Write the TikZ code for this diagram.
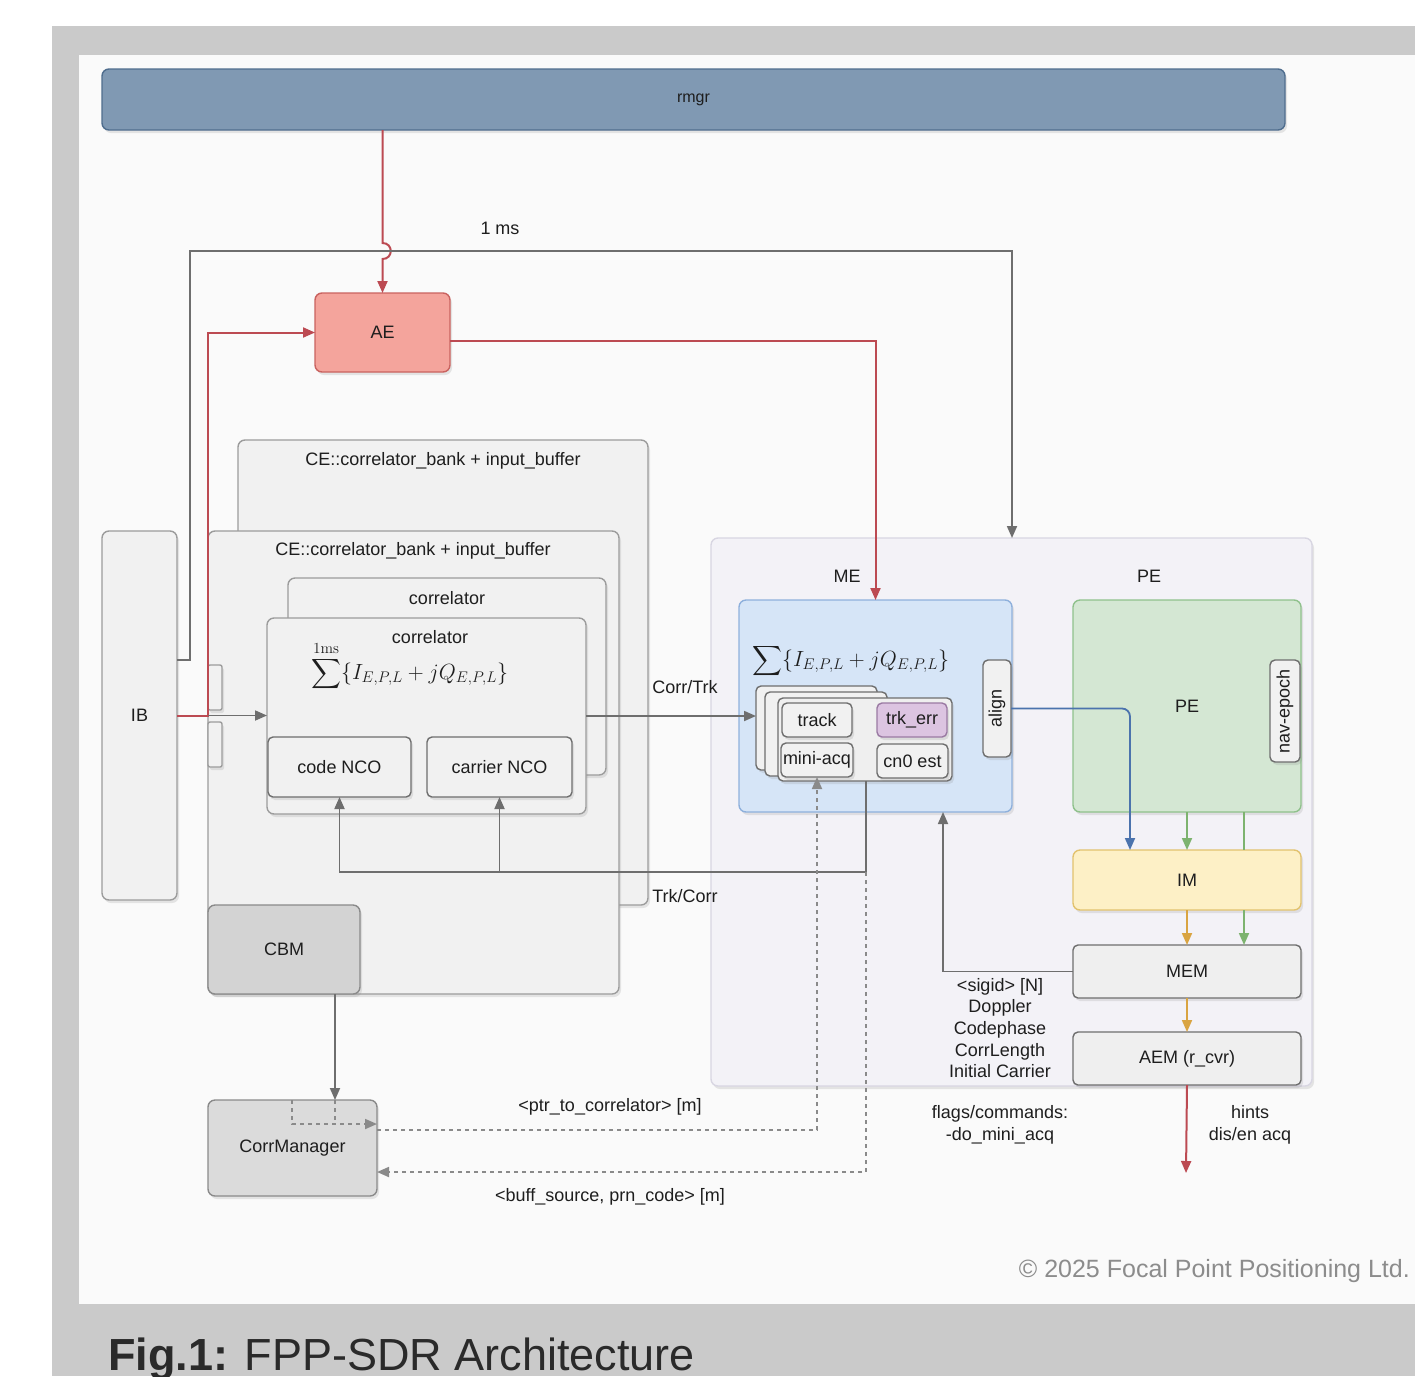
\RequirePackage{fix-cm}
\documentclass[tikz,border=0pt]{standalone}
\usepackage{exscale}
\usepackage[no-math]{fontspec}
\setmainfont{Liberation Sans}
\usetikzlibrary{arrows.meta,shadows,calc}

\definecolor{bggray}{HTML}{CACACA}
\definecolor{panel}{HTML}{FAFAFA}
\definecolor{ink}{HTML}{1E1E1E}
\definecolor{capink}{HTML}{2A2A2A}
\definecolor{rmgrfill}{HTML}{8099B3}
\definecolor{rmgrline}{HTML}{4F6D8E}
\definecolor{aefill}{HTML}{F4A49C}
\definecolor{aeline}{HTML}{C9625F}
\definecolor{lred}{HTML}{BC4A52}
\definecolor{lgray}{HTML}{6E6E6E}
\definecolor{dgray}{HTML}{8A8A8A}
\definecolor{cefill}{HTML}{F1F1F1}
\definecolor{celine}{HTML}{9C9C9C}
\definecolor{cbmfill}{HTML}{D3D3D3}
\definecolor{cmfill}{HTML}{DBDBDB}
\definecolor{mepefill}{HTML}{F3F2F7}
\definecolor{mepeline}{HTML}{D8D6E2}
\definecolor{mefill}{HTML}{D6E5F7}
\definecolor{meline}{HTML}{8EB0DC}
\definecolor{pefill}{HTML}{D4E7D3}
\definecolor{peline}{HTML}{8FC18C}
\definecolor{imfill}{HTML}{FDF0C6}
\definecolor{imline}{HTML}{E2C26E}
\definecolor{memfill}{HTML}{EFEFEF}
\definecolor{errfill}{HTML}{DCC4E1}
\definecolor{errline}{HTML}{9A7AA3}
\definecolor{lblue}{HTML}{4B73AD}
\definecolor{lgreen}{HTML}{7DB36F}
\definecolor{lorange}{HTML}{D9A441}
\definecolor{copyink}{HTML}{8C8C8C}

\begin{document}
\begin{tikzpicture}[x=1pt,y=-1pt,
  every node/.style={font=\fontsize{18}{21.7}\selectfont, text=ink},
  blk/.style={draw=celine, fill=cefill, rounded corners=7pt, line width=1.4pt,
    inner sep=0pt, outer sep=0pt, anchor=north west,
    drop shadow={shadow xshift=2pt, shadow yshift=-3pt, opacity=0.18}},
  small/.style={blk, rounded corners=5pt, draw=lgray},
  lbl/.style={inner sep=0pt, align=center},
  arr/.style={-{Triangle[length=12pt,width=10pt]}},
  gline/.style={draw=lgray, line width=1.8pt},
  rline/.style={draw=lred, line width=2pt},
  dotline/.style={draw=dgray, line width=1.8pt, dash pattern=on 4pt off 4pt},
]
% page, grey frame and white panel
\fill[white] (0,0) rectangle (1415,1376);
\fill[bggray] (52,26) rectangle (1415,1376);
\fill[panel] (79,55) rectangle (1415,1304);
\useasboundingbox (0,0) rectangle (1415,1376);

% resource manager
\node[blk, fill=rmgrfill, draw=rmgrline, minimum width=1183pt, minimum height=61pt,
  font=\fontsize{16}{19}\selectfont] (rmgr) at (102,69) {rmgr};
% acquisition engine
\node[blk, fill=aefill, draw=aeline, minimum width=135pt, minimum height=79pt] (ae) at (315,293) {AE};
% input buffer
\node[blk, minimum width=75pt, minimum height=369pt] (ib) at (102,531) {IB};

% correlator banks
\node[blk, minimum width=410pt, minimum height=465pt] (ceB) at (238,440) {};
\node[blk, minimum width=411pt, minimum height=463pt] (ceF) at (208,531) {};
\node[blk, rounded corners=2pt, minimum width=14pt, minimum height=45pt] (tabA) at (208,665) {};
\node[blk, rounded corners=2pt, minimum width=14pt, minimum height=45pt] (tabB) at (208,722) {};
\node[lbl] (ceBt) at (443,461) {CE::correlator\_bank + input\_buffer};
\node[lbl] (ceFt) at (413,551) {CE::correlator\_bank + input\_buffer};
\node[blk, minimum width=318pt, minimum height=197pt] (corB) at (288,578) {};
\node[blk, minimum width=319pt, minimum height=196pt] (corF) at (267,618) {};
\node[lbl] (corBt) at (447,598) {correlator};
\node[lbl] (corFt) at (430,637) {correlator};
\node[lbl, font=\fontsize{22}{26}\selectfont, anchor=west] (sumC) at (311,666)
  {$\displaystyle\sum^{\mathrm{1ms}}\{I_{E,P,L}+jQ_{E,P,L}\}$};
\node[small, minimum width=143pt, minimum height=60pt] (codenco) at (268,737) {code NCO};
\node[small, minimum width=145pt, minimum height=60pt] (carnco) at (427,737) {carrier NCO};
\node[blk, fill=cbmfill, draw=dgray, minimum width=152pt, minimum height=89pt] (cbm) at (208,905) {CBM};
\node[blk, fill=cmfill, draw=dgray, minimum width=169pt, minimum height=96pt] (cm) at (208,1100) {CorrManager};

% measurement and position engines
\node[blk, fill=mepefill, draw=mepeline, minimum width=601pt, minimum height=548pt] (mepe) at (711,538) {};
\node[lbl] (mel) at (847,576) {ME};
\node[lbl] (pel) at (1149,576) {PE};
\node[blk, fill=mefill, draw=meline, minimum width=273pt, minimum height=212pt] (me) at (739,600) {};
\node[lbl, font=\fontsize{22}{26}\selectfont, anchor=west] (sumM) at (752,661)
  {$\displaystyle\sum\{I_{E,P,L}+jQ_{E,P,L}\}$};
\node[small, minimum width=121pt, minimum height=84pt] (card1) at (756,686) {};
\node[small, minimum width=122pt, minimum height=84pt] (card2) at (765,692) {};
\node[small, fill=memfill, minimum width=174pt, minimum height=83pt] (cardF) at (778,698) {};
\node[small, minimum width=70pt, minimum height=34pt] (track) at (782,703) {track};
\node[small, fill=errfill, draw=errline, minimum width=70pt, minimum height=34pt] (trkerr) at (877,703) {trk\_err};
\node[small, minimum width=72pt, minimum height=34pt] (miniacq) at (781,743) {mini-acq};
\node[small, minimum width=71pt, minimum height=34pt] (cn0) at (877,744) {cn0 est};
\node[small, minimum width=28pt, minimum height=97pt] (align) at (983,660) {};
\node[lbl, rotate=90] (alignt) at (align.center) {align};

\node[blk, fill=pefill, draw=peline, minimum width=228pt, minimum height=212pt] (pe) at (1073,600) {PE};
\node[small, minimum width=30pt, minimum height=102pt] (nav) at (1270,660) {};
\node[lbl, rotate=90] (navt) at (nav.center) {nav-epoch};
\node[blk, fill=imfill, draw=imline, minimum width=228pt, minimum height=60pt] (im) at (1073,850) {IM};
\node[small, fill=memfill, minimum width=228pt, minimum height=53pt] (mem) at (1073,945) {MEM};
\node[small, fill=memfill, minimum width=228pt, minimum height=53pt] (aem) at (1073,1032) {AEM (r\_cvr)};

% helper points
\coordinate (msA) at (190,660);
\coordinate (msB) at (190,251);
\coordinate (fb) at (866,872);
\coordinate (ptrY) at (0,1130);
\coordinate (bufY) at (0,1172);
\coordinate (aeOut) at (450,341);
\coordinate (outEnd) at (1186,1173);
\path (ae.north |- msB) coordinate (hopC);

% rmgr -> AE, hopping over the 1 ms line
\draw[rline, arr] (rmgr.south -| ae.north) -- ($(hopC)+(0,-8)$)
  .. controls ($(hopC)+(11,-8)$) and ($(hopC)+(11,8)$) .. ($(hopC)+(0,8)$) -- (ae.north);
% 1 ms tick
\draw[gline, arr] (msA -| ib.east) -- (msA) -- (msB) -| (mepe.north -| me.north east);
\node[lbl] (ms) at (500,228) {1 ms};
% IB -> AE and IB -> correlator
\draw[rline, arr] (ib.east) -- (ceF.west |- ib.east) |- (ae.west);
\draw[gline, arr] (ceF.west |- ib.east) -- (corF.west |- ib.east);
% AE -> ME
\draw[rline, draw=lred, arr] (ae.east |- aeOut) -| (me.north);
% correlator -> tracking
\draw[gline, arr] (corF.east) -- (card1.west |- corF.east);
\node[lbl] (ctl) at (685,687) {Corr/Trk};
% tracking -> NCOs
\draw[gline, arr] (cardF.south -| fb) -- (fb) -| (codenco.south);
\draw[gline, arr] (carnco.south |- fb) -- (carnco.south);
\node[lbl] (tcl) at (685,896) {Trk/Corr};
% CBM -> CorrManager
\draw[gline, arr] (cbm.south -| 335,0) -- (cm.north -| 335,0);
\draw[dotline] (cm.north -| 335,0) -- (335,1124);
\draw[dotline, arr] (cm.north -| 292,0) -- (292,1124) -- (cm.east |- 0,1124);
% CorrManager <-> ME
\draw[dotline, arr] (cm.east |- ptrY) -| (miniacq.south);
\draw[dotline, arr] (fb) -- (fb |- bufY) -- (cm.east |- bufY);
\node[lbl] (ptr) at (610,1107) {<ptr\_to\_correlator> [m]};
\node[lbl] (buf) at (610,1197) {<buff\_source, prn\_code> [m]};
% MEM -> ME
\draw[gline, arr] (mem.west) -| (me.south -| 943,0);
\node[lbl] (sig) at (1000,1028) {<sigid> [N]\\Doppler\\Codephase\\CorrLength\\Initial Carrier};
\node[lbl] (flags) at (1000,1125) {flags/commands:\\-do\_mini\_acq};
% align -> IM
\draw[draw=lblue, line width=1.8pt, arr, rounded corners=8pt] (align.east) -| (im.north -| 1130,0);
% PE -> IM -> MEM -> AEM
\draw[draw=lgreen, line width=1.8pt, arr] (pe.south) -- (im.north);
\draw[draw=lgreen, line width=1.8pt] (pe.south -| 1244,0) -- (im.north -| 1244,0);
\draw[draw=lgreen, line width=1.8pt, arr] (im.south -| 1244,0) -- (mem.north -| 1244,0);
\draw[draw=lorange, line width=1.8pt, arr] (im.south) -- (mem.north);
\draw[draw=lorange, line width=1.8pt, arr] (mem.south) -- (aem.north);
\draw[rline, arr] (aem.south) -- (outEnd);
\node[lbl] (hints) at (1250,1125) {hints\\dis/en acq};

% footer
\node[lbl, anchor=east, text=copyink, font=\fontsize{25}{28}\selectfont] (copy) at (1410,1271)
  {© 2025 Focal Point Positioning Ltd.};
\node[inner sep=0pt, anchor=base west, text=capink, font=\fontsize{45}{50}\selectfont] (cap)
  at (108,1370) {\textbf{Fig.1:} FPP-SDR Architecture};
\end{tikzpicture}
\end{document}
